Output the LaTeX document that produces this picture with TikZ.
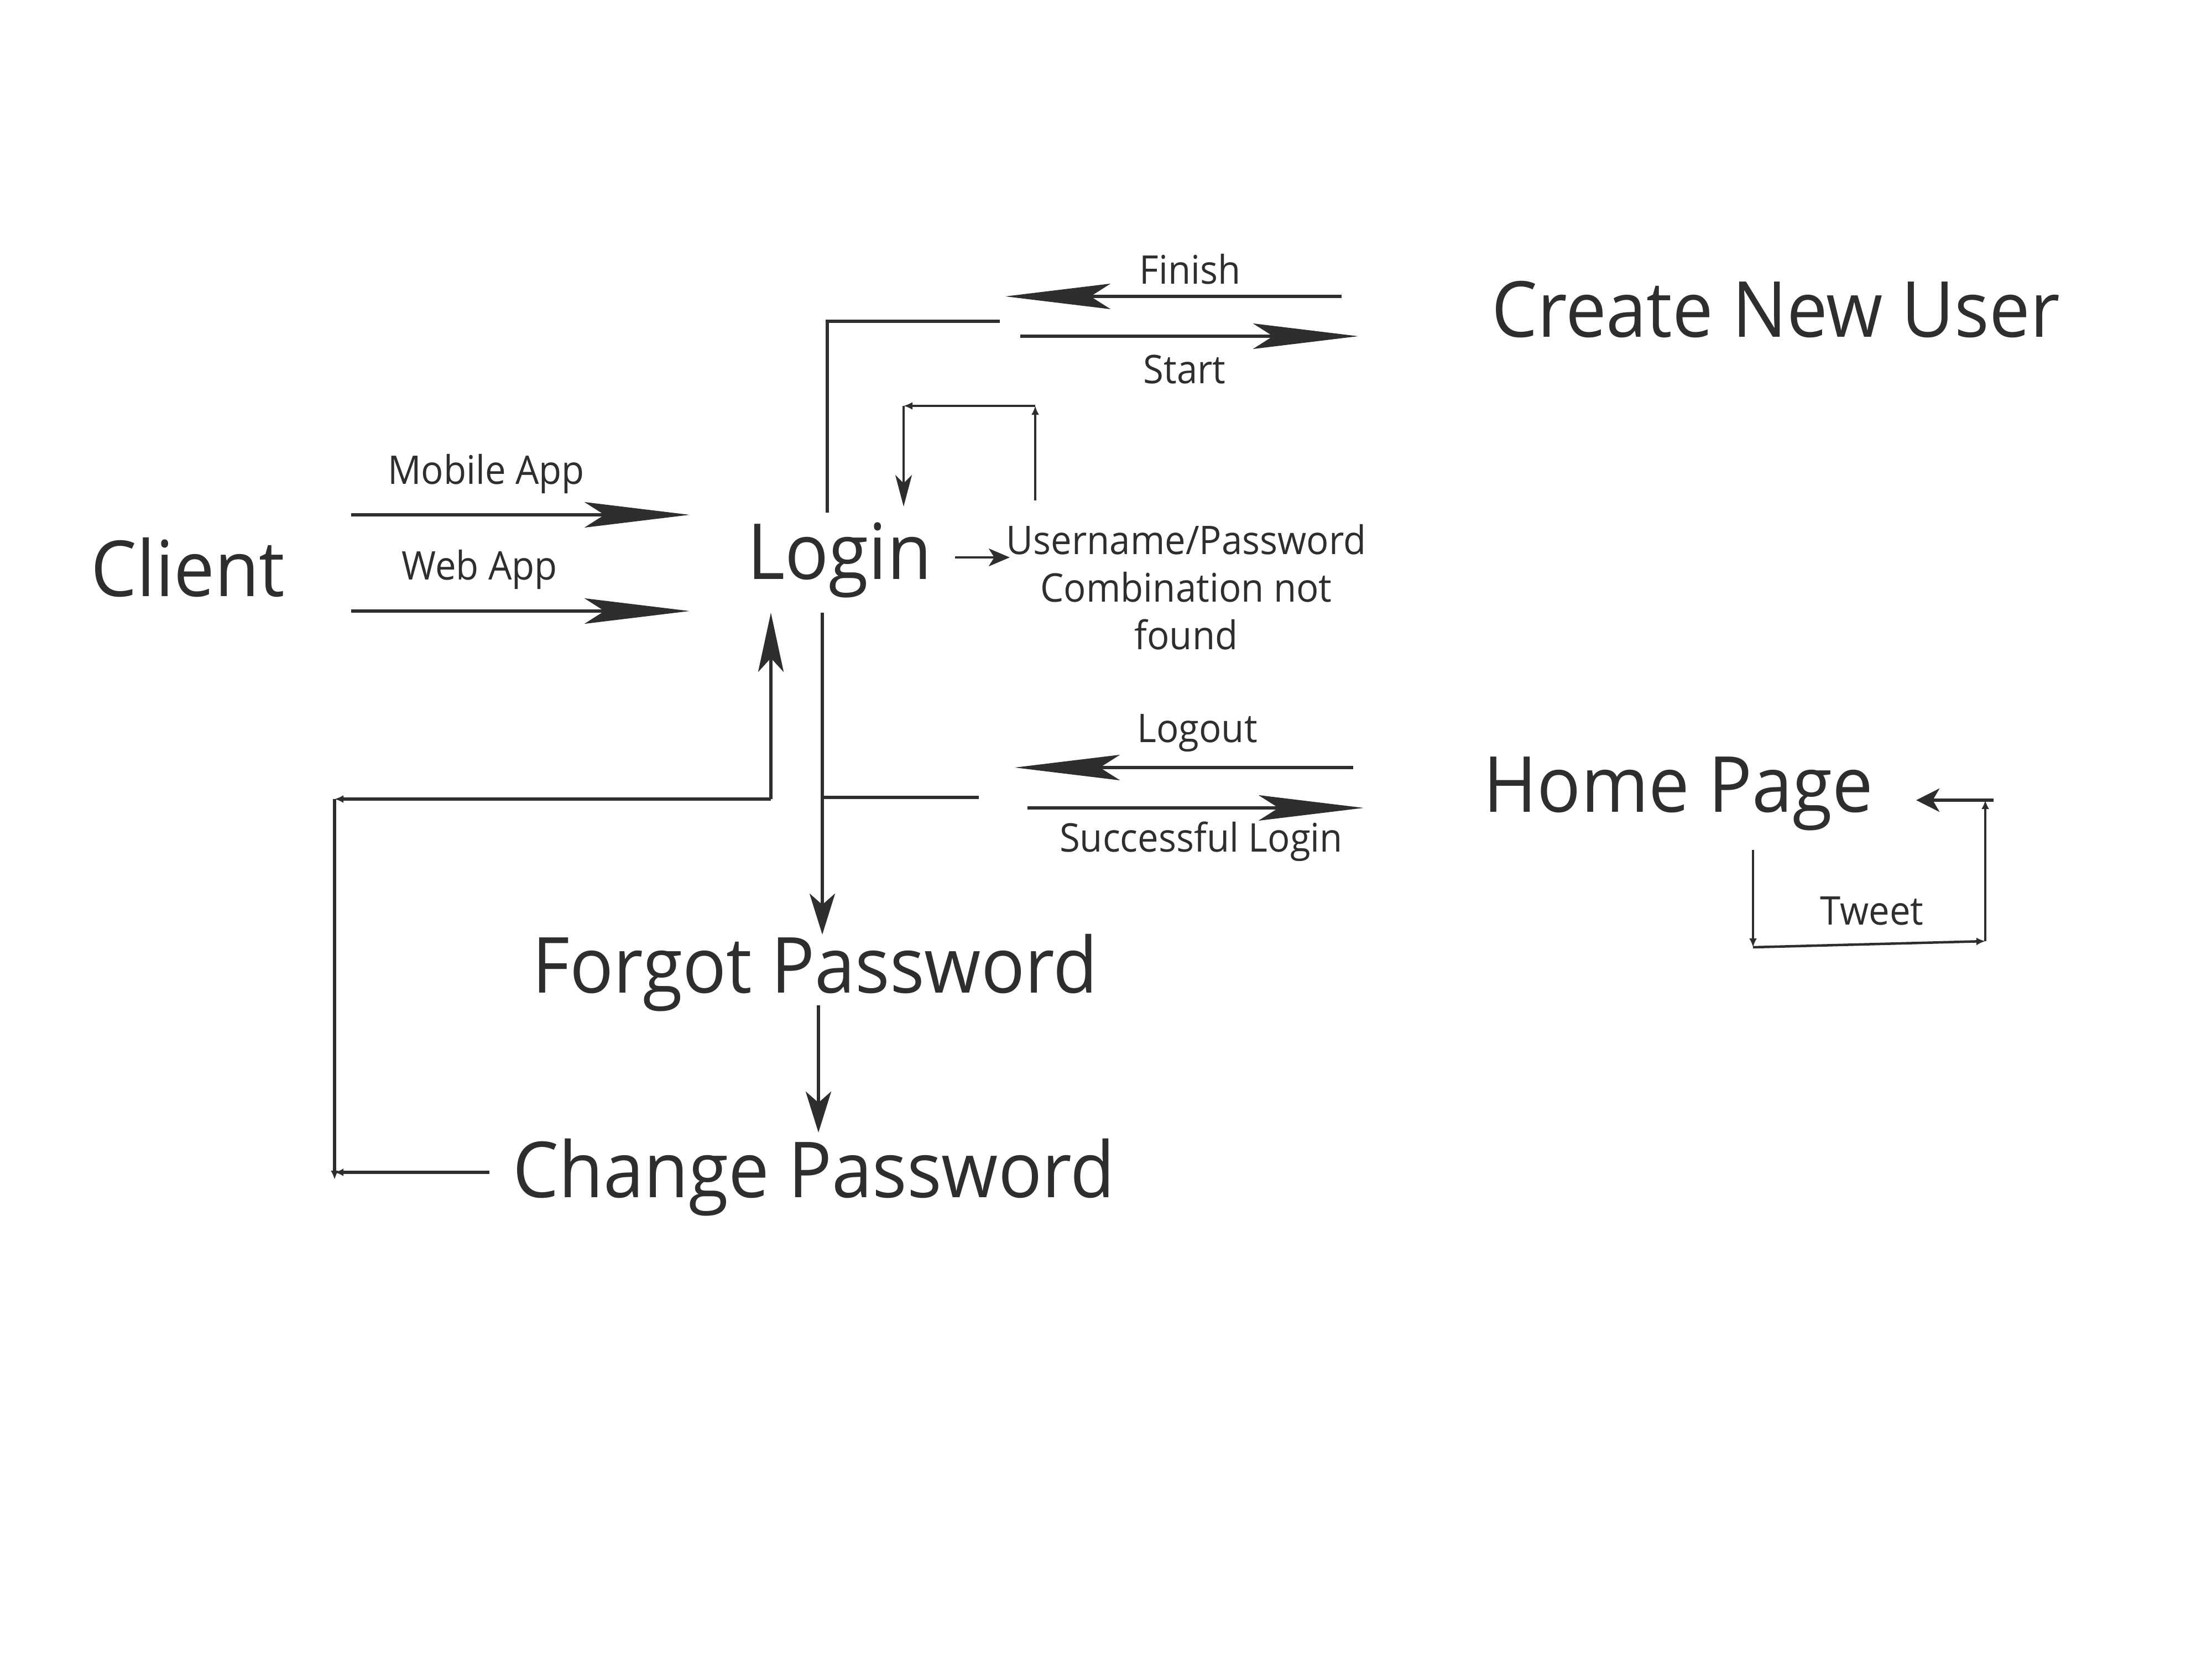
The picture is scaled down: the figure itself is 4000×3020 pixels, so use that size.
\documentclass[tikz,border=0pt]{standalone}
\usepackage{fontspec}
\setmainfont{Open Sans}[FakeStretch=0.94]
\usetikzlibrary{arrows.meta}
\definecolor{ink}{HTML}{2E2E2E}

\begin{document}
\begin{tikzpicture}[
			x=0.1mm, y=-0.1mm,
			every node/.style={text=ink, inner sep=0pt},
			state/.style={font=\fontsize{39.8}{48}\selectfont, anchor=base},
			tag/.style={font=\fontsize{20.3}{24.5}\selectfont, anchor=base},
			wire/.style={draw=ink, line width=0.6mm},
			loopwire/.style={draw=ink, line width=0.45mm},
			longtip/.style={-{Stealth[length=19mm, width=4.6mm, inset=3.6mm]}},
			midtip/.style={-{Stealth[length=7.4mm, width=4.6mm, inset=2mm]}},
			head/.style n args={3}{-{Stealth[length=#1, width=#2, inset=#3]}},
			tinytip/.style={-{Latex[length=1.6mm, width=1.4mm]}},
		]
		\path[use as bounding box] (0,0) rectangle (4000,3020);
		% states
		\node[state] (client) at (340,1078) {Client};
		\node[state] (login) at (1518,1047) {Login};
		\node[state] (create) at (3211,610) {Create New User};
		\node[state] (home) at (3035,1468) {Home Page};
		\node[state] (forgot) at (1474,1795) {Forgot Password};
		\node[state] (change) at (1472,2165) {Change Password};
		\node[tag, anchor=center, align=center] (notfound) at (2145,1062) {Username/Password\\Combination not\\found};
		% labels
		\node[tag] (mobile) at (879,875) {Mobile App};
		\node[tag] (web) at (867,1048) {Web App};
		\node[tag] (finish) at (2152,513) {Finish};
		\node[tag] (start) at (2142,693) {Start};
		\node[tag] (logout) at (2165,1342) {Logout};
		\node[tag] (success) at (2172,1540) {Successful Login};
		\node[tag] (tweet) at (3385,1672) {Tweet};
		% end points
		\coordinate (m1) at (635,931); \coordinate (m2) at (1247,931);
		\coordinate (w1) at (635,1105); \coordinate (w2) at (1247,1105);
		\coordinate (f1) at (2426,536); \coordinate (f2) at (1818,536);
		\coordinate (s1) at (1845,608); \coordinate (s2) at (2456,608);
		\coordinate (lc1) at (1496,927); \coordinate (lc2) at (1808,581);
		\coordinate (r1) at (1872,905); \coordinate (r2) at (1872,734);
		\coordinate (r3) at (1634,734); \coordinate (r4) at (1634,916);
		\coordinate (u1) at (1727,1008); \coordinate (u2) at (1826,1008);
		\coordinate (o1) at (2447,1388); \coordinate (o2) at (1835,1388);
		\coordinate (g1) at (1858,1461); \coordinate (g2) at (2466,1461);
		\coordinate (d1) at (1487,1108); \coordinate (d2) at (1487,1690);
		\coordinate (b1) at (1487,1442); \coordinate (b2) at (1770,1442);
		\coordinate (c1) at (1480,1818); \coordinate (c2) at (1480,2048);
		\coordinate (k1) at (885,2120); \coordinate (k2) at (605,2120);
		\coordinate (k3) at (605,2133); \coordinate (k4) at (605,1445);
		\coordinate (k5) at (1394,1445); \coordinate (k6) at (1394,1108);
		\coordinate (t1) at (3170,1537); \coordinate (t2) at (3170,1713);
		\coordinate (t3) at (3590,1702); \coordinate (t4) at (3590,1447);
		\coordinate (t5) at (3605,1447); \coordinate (t6) at (3465,1447);
		% client -> login
		\draw[wire, longtip] (m1) -- (m2);
		\draw[wire, longtip] (w1) -- (w2);
		% login <-> create new user
		\draw[wire, longtip] (f1) -- (f2);
		\draw[wire, longtip] (s1) -- (s2);
		\draw[wire] (lc1) |- (lc2);
		% retry
		\draw[loopwire, tinytip] (r1) -- (r2);
		\draw[loopwire, tinytip] (r2) -- (r3);
		\draw[loopwire, head={5.7mm}{3mm}{1.5mm}] (r3) -- (r4);
		\draw[loopwire, head={3.8mm}{3.2mm}{1mm}] (u1) -- (u2);
		% login <-> home page
		\draw[wire, longtip] (o1) -- (o2);
		\draw[wire, longtip] (g1) -- (g2);
		\draw[wire] (b1) -- (b2);
		% password reset
		\draw[wire, midtip] (d1) -- (d2);
		\draw[wire, midtip] (c1) -- (c2);
		\draw[wire, tinytip] (k1) -- (k2);
		\draw[wire, tinytip] (k4) -- (k3);
		\draw[wire, tinytip] (k5) -- (k4);
		\draw[wire, head={10.7mm}{4.6mm}{2.5mm}] (k5) -- (k6);
		% tweet
		\draw[loopwire, tinytip] (t1) -- (t2);
		\draw[loopwire, tinytip] (t2) -- (t3);
		\draw[loopwire, tinytip] (t3) -- (t4);
		\draw[wire, head={4.2mm}{4.2mm}{1.2mm}] (t5) -- (t6);
\end{tikzpicture}
\end{document}
